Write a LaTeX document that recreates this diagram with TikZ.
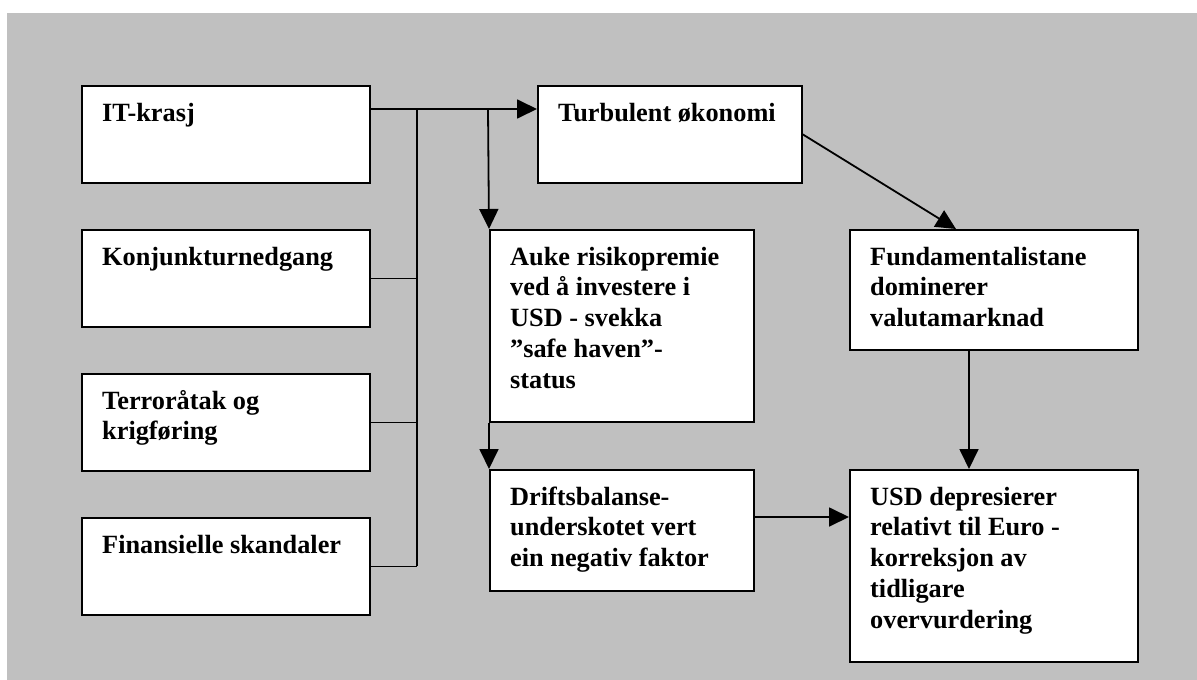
\documentclass[tikz,border=0pt]{standalone}
\usepackage{fontspec}
\setmainfont{Liberation Serif}
\usetikzlibrary{arrows.meta}
\definecolor{bggray}{RGB}{192,192,192}
\newcommand{\boxlines}[1]{\parbox[t]{262pt}{\raggedright #1}}
\begin{document}
\begin{tikzpicture}[x=1pt,y=-1pt,
  box/.style={draw=black, fill=white, line width=1.8pt, inner sep=0pt, anchor=north west},
  txt/.style={anchor=base west, inner sep=0pt,
    font=\fontsize{26.3}{30.8}\selectfont\bfseries},
  conn/.style={line width=1.8pt, draw=black},
  arr/.style={conn, -{Triangle[length=20pt,width=19pt]}}]
\useasboundingbox (0,0) rectangle (1197,680);
\fill[white] (0,0) rectangle (1197,680);
\fill[bggray] (7,13) rectangle (1197,680);
% boxes
\node[box, minimum width=288pt, minimum height=97pt] (it) at (81,85) {};
\node[box, minimum width=288pt, minimum height=97pt] (konj) at (81,229) {};
\node[box, minimum width=288pt, minimum height=97pt] (terror) at (81,373) {};
\node[box, minimum width=288pt, minimum height=97pt] (fin) at (81,517) {};
\node[box, minimum width=264pt, minimum height=97pt] (turb) at (537,85) {};
\node[box, minimum width=264pt, minimum height=192pt] (auke) at (489,229) {};
\node[box, minimum width=264pt, minimum height=121pt] (drift) at (489,469) {};
\node[box, minimum width=288pt, minimum height=120pt] (fund) at (849,229) {};
\node[box, minimum width=288pt, minimum height=192pt] (usd) at (849,469) {};
% texts
\node[txt] (itT) at ([shift={(21,36)}]it.north west) {\boxlines{IT-krasj}};
\node[txt] (konjT) at ([shift={(21,36)}]konj.north west) {\boxlines{Konjunkturnedgang}};
\node[txt] (terrorT) at ([shift={(21,36)}]terror.north west) {\boxlines{Terroråtak og\\krigføring}};
\node[txt] (finT) at ([shift={(21,36)}]fin.north west) {\boxlines{Finansielle skandaler}};
\node[txt] (turbT) at ([shift={(21,36)}]turb.north west) {\boxlines{Turbulent økonomi}};
\node[txt] (aukeT) at ([shift={(21,36)}]auke.north west) {\boxlines{Auke risikopremie\\ved å investere i\\USD - svekka\\”safe haven”-\\status}};
\node[txt] (driftT) at ([shift={(21,36)}]drift.north west) {\boxlines{Driftsbalanse-\\underskotet vert\\ein negativ faktor}};
\node[txt] (fundT) at ([shift={(21,36)}]fund.north west) {\boxlines{Fundamentalistane\\dominerer\\valutamarknad}};
\node[txt] (usdT) at ([shift={(21,36)}]usd.north west) {\boxlines{USD depresierer\\relativt til Euro -\\korreksjon av\\tidligare\\overvurdering}};
% bus coordinates
\coordinate (busTop) at (417,109);
\coordinate (busBot) at (417,565.5);
\coordinate (branch) at (488,109);
% connectors
\draw[arr] ([yshift=-24pt]it.north east) -- ([yshift=-24pt]turb.north west);
\draw[conn] (busTop) -- (busBot);
\draw[conn] (konj.east) -- (konj.east -| busTop);
\draw[conn] (terror.east) -- (terror.east -| busTop);
\draw[conn] (fin.east) -- (fin.east -| busTop);
\draw[arr] (branch) -- (auke.north west);
\draw[arr] (auke.south west) -- (drift.north west);
\draw[arr] (turb.east) -- ([xshift=107pt]fund.north west);
\draw[arr] ([xshift=120pt]fund.south west) -- ([xshift=120pt]usd.north west);
\draw[arr] ([yshift=-48pt]drift.north east) -- ([yshift=-48pt]usd.north west);
\end{tikzpicture}
\end{document}
